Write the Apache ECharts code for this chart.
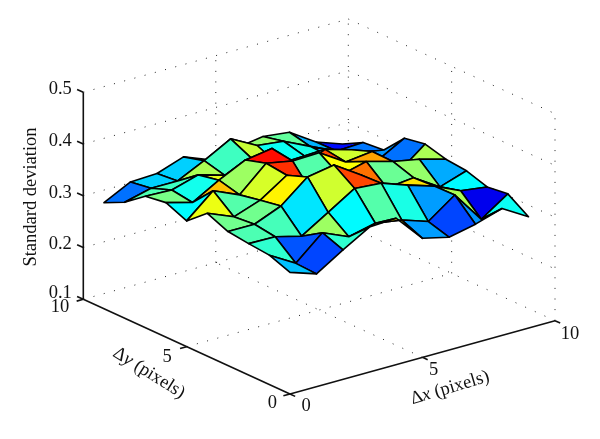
<!DOCTYPE html>
<html><head><meta charset="utf-8">
<style>html,body{margin:0;padding:0;background:#fff}#c{width:600px;height:439px}</style>
<script src="https://cdn.jsdelivr.net/npm/echarts@6/dist/echarts.min.js"></script>
</head><body><div id="c"></div>
<script>
const xGrid=[0,1,2,3,4,5,6,7,8,9];
const yGrid=[0,1,2,3,4,5,6,7,8,9];
const row0=[.335,.318,.350,.380,.383,.330,.318,.329,.345,.315];
const row1=[.350,.320,.365,.343,.355,.347,.330,.367,.306,.341];
const row2=[.354,.353,.340,.372,.404,.400,.382,.366,.343,.336];
const row3=[.359,.359,.380,.422,.431,.398,.358,.364,.332,.349];
const row4=[.376,.355,.373,.407,.355,.378,.391,.377,.367,.353];
const row5=[.343,.387,.365,.412,.402,.404,.372,.378,.324,.364];
const row6=[.360,.346,.375,.400,.408,.352,.378,.363,.329,.357];
const row7=[.354,.352,.367,.352,.371,.345,.347,.331,.325,.316];
const row8=[.324,.337,.337,.362,.390,.363,.357,.333,.310,.312];
const row9=[.305,.331,.333,.351,.331,.340,.348,.342,.309,.291];
const zRows=[row0,row1,row2,row3,row4,row5,row6,row7,row8,row9];
const xTicks=[0,5,10];
const yTicks=[0,5,10];
const zTicks=[0.1,0.2,0.3,0.4,0.5];
const zLabels=['0.1','0.2','0.3','0.4','0.5'];

// orthographic view of the 3-D box, in view-plane units read by the hidden axes
function view(x,y,z){return [290+26.5*x-20.67*y, 394-7.33*x-9.47*y-(z-0.1)*517.5];}
const all=zRows.flat(), cMin=Math.min(...all), cMax=Math.max(...all);
function jet(t){
  const f=c=>Math.round(255*Math.max(0,Math.min(1,1.5-Math.abs(4*t-c))));
  return 'rgb('+f(3)+','+f(2)+','+f(1)+')';
}

const cells=[];
for(let i=xGrid.length-2;i>=0;i--)for(let j=yGrid.length-2;j>=0;j--)cells.push([i,j]);

const dotted=[];
zTicks.forEach(z=>{
  if(z>0.1){dotted.push([0,10,z,10,10,z]);dotted.push([10,10,z,10,0,z]);}
});
[5,10].forEach(v=>{dotted.push([v,0,0.1,v,10,0.1]);dotted.push([0,v,0.1,10,v,0.1]);dotted.push([v,10,0.1,v,10,0.5]);});
[0,5].forEach(v=>dotted.push([10,v,0.1,10,v,0.5]));

const solid=[[0,10,0.1,0,10,0.5],[0,10,0.1,0,0,0.1],[0,0,0.1,10,0,0.1]];
zTicks.forEach(z=>solid.push([0,10,z,0,10.3,z]));
yTicks.forEach(y=>solid.push([0,y,0.1,-0.25,y,0.1]));
xTicks.forEach(x=>solid.push([x,0,0.1,x,-0.25,0.1]));

const FONT='"Liberation Serif","DejaVu Serif",serif';
function seg(api,s,style){
  const a=api.coord(view(s[0],s[1],s[2])),b=api.coord(view(s[3],s[4],s[5]));
  return {type:'line',shape:{x1:a[0],y1:a[1],x2:b[0],y2:b[1]},style};
}
const texts=[];
zTicks.forEach((z,k)=>texts.push({t:zLabels[k],p:[0,10,z],dx:-11.5,dy:z===0.1?-6:-3,align:'right'}));
yTicks.forEach(y=>texts.push({t:String(y),p:[0,y,0.1],dx:y===10?-14:y===5?-15:-13,dy:y===10?8:y===0?9:10,align:'right'}));
xTicks.forEach(x=>texts.push({t:String(x),p:[x,0,0.1],dx:x===10?15:x===5?11:16,dy:x===0?12:13,align:'center'}));

const titles=[
  {text:'Standard deviation',pos:[31,197],rot:Math.PI/2},
  {text:'{a|\u0394}{b|y}{a| (pixels)}',pos:[149,373],rot:-0.56},
  {text:'{a|\u0394}{b|x}{a| (pixels)}',pos:[450,388],rot:0.29}];

const option={
  animation:false,
  backgroundColor:'#fff',
  grid:{left:0,right:0,top:0,bottom:0},
  xAxis:{type:'value',min:0,max:600,show:false},
  yAxis:{type:'value',min:0,max:439,inverse:true,show:false},
  series:[
    {type:'custom',coordinateSystem:'cartesian2d',clip:false,silent:true,data:dotted,
     renderItem:(p,api)=>seg(api,dotted[p.dataIndex],{stroke:'#222',lineWidth:1,lineDash:[1,9.6],fill:null})},
    {type:'custom',coordinateSystem:'cartesian2d',clip:false,silent:true,data:cells,
     renderItem:(p,api)=>{
       const [i,j]=cells[p.dataIndex];
       const pts=[[i,j],[i+1,j],[i+1,j+1],[i,j+1]].map(q=>api.coord(view(xGrid[q[0]],yGrid[q[1]],zRows[q[1]][q[0]])));
       return {type:'polygon',shape:{points:pts},
         style:{fill:jet((zRows[j][i]-cMin)/(cMax-cMin)),stroke:'#000',lineWidth:1.6,lineJoin:'round'}};
     }},
    {type:'custom',coordinateSystem:'cartesian2d',clip:false,silent:true,data:solid,
     renderItem:(p,api)=>seg(api,solid[p.dataIndex],{stroke:'#111',lineWidth:1.6,fill:null})},
    {type:'custom',coordinateSystem:'cartesian2d',clip:false,silent:true,data:texts,
     renderItem:(p,api)=>{
       const d=texts[p.dataIndex],c=api.coord(view(d.p[0],d.p[1],d.p[2]));
       return {type:'text',x:c[0]+d.dx,y:c[1]+d.dy,
         style:{text:d.t,fill:'#111',font:'18.5px '+FONT,align:d.align,verticalAlign:'middle'}};
     }},
    {type:'custom',coordinateSystem:'cartesian2d',clip:false,silent:true,data:titles,
     renderItem:(p,api)=>{
       const d=titles[p.dataIndex],c=api.coord(d.pos);
       return {type:'text',x:c[0],y:c[1],rotation:d.rot,
         style:{text:d.text,fill:'#111',font:'18.5px '+FONT,align:'center',verticalAlign:'middle',
           rich:{a:{font:'18.5px '+FONT,fill:'#111'},b:{font:'italic 18.5px '+FONT,fill:'#111'}}}};
     }}
  ]
};
echarts.init(document.getElementById('c'),null,{renderer:'canvas'}).setOption(option);
</script></body></html>
